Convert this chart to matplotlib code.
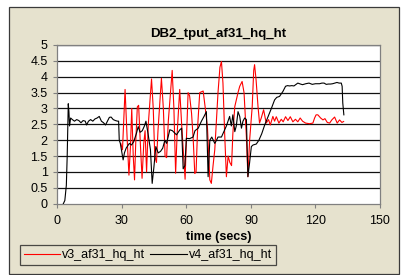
import matplotlib
matplotlib.use("Agg")
import matplotlib.pyplot as plt
from matplotlib.patches import Rectangle

plt.rcParams['font.family'] = ['Liberation Sans', 'DejaVu Sans']

# v3 (red) series: time (secs), value
v3_t = [29.5, 30.3, 31.5, 32.5, 33.3, 34.0, 34.6, 35.3, 35.9, 36.5, 37.2, 37.8,
        38.6, 39.4, 40.2, 40.8, 41.5, 42.3, 43.8, 44.6, 45.3, 46.1, 46.8, 48.4,
        49.3, 50.1, 50.8, 51.6, 53.4, 54.2, 55.0, 55.7, 56.9, 57.8, 59.4, 60.0,
        60.8, 61.5, 62.4, 63.2, 63.9, 64.5, 65.3, 66.2, 67.8, 68.8, 69.8, 70.9,
        71.6, 72.4, 73.2, 74.7, 75.6, 76.3, 77.0, 77.8, 78.6, 79.4, 80.2, 81.0,
        81.6, 82.5, 84.0, 84.8, 85.9, 86.8, 87.9, 88.6, 89.4, 90.6, 91.3, 91.7,
        92.4, 93.3, 94.0, 94.8, 95.9, 97.1, 98.2, 99.0, 100.2, 101.0, 101.8, 103.0,
        104.1, 105.0, 106.1, 107.2, 108.3, 109.5, 110.7, 111.8, 112.9, 114.0, 115.4,
        117.2, 118.8, 119.6, 120.3, 121.1, 122.4, 123.5, 124.4, 125.5, 126.6, 127.6,
        128.9, 130.1, 131.2, 132.3, 133.1]
v3_val = [1.9, 1.7, 3.6, 2.0, 0.9, 1.8, 3.0, 1.5, 0.75, 2.0, 3.05, 3.1,
          1.9, 0.8, 1.9, 2.3, 1.0, 2.5, 3.93, 3.0, 1.5, 1.3, 2.3, 3.95,
          3.0, 1.5, 1.45, 2.6, 4.2, 3.0, 0.96, 2.2, 3.6, 2.5, 0.77, 2.0,
          3.5, 3.4, 2.85, 2.0, 0.95, 1.0, 2.5, 3.5, 3.55, 3.0, 2.4, 0.75,
          0.64, 1.2, 1.7, 3.5, 4.3, 4.48, 3.8, 2.2, 0.85, 1.5, 1.3, 1.2,
          2.2, 3.06, 3.5, 3.7, 3.85, 3.5, 2.1, 0.85, 2.0, 3.06, 4.2, 4.38,
          3.9, 3.06, 2.54, 2.7, 2.96, 2.54, 2.65, 2.48, 2.75, 2.6, 2.74, 2.54,
          2.66, 2.58, 2.74, 2.62, 2.74, 2.58, 2.66, 2.58, 2.7, 2.6, 2.54,
          2.52, 2.54, 2.7, 2.8, 2.8, 2.7, 2.64, 2.68, 2.56, 2.54, 2.64,
          2.73, 2.54, 2.64, 2.56, 2.59]

# v4 (black) series
v4_t = [2.8, 3.5, 4.2, 4.6, 5.1, 5.4, 5.7, 6.2, 7, 8, 9, 10, 11, 12, 13, 13.6,
        14.5, 15.5, 16.5, 17.5, 18.5, 19.5, 20.5, 21.5, 22.4, 23.3, 24.2, 25, 26,
        27, 28, 28.5, 28.8, 29.3, 29.8, 30.6, 31.2, 32, 32.5, 33.5, 34.5, 35.5,
        36.8, 37.6, 38.5, 39.5, 40.5, 41.2, 42.2, 43.3, 44.1, 44.9, 45.8, 46.9,
        48, 49, 50, 50.8, 52.3, 53.5, 55.4, 57, 57.8, 58.5, 59.3, 60, 61.5, 63.1,
        64, 65.5, 67, 68.2, 69.3, 70.1, 70.9, 71.8, 73.2, 74, 74.7, 76.3, 77.8,
        78.6, 80.1, 80.9, 81.6, 82.5, 83.2, 84, 84.8, 85.6, 86.3, 87.1, 87.9,
        88.6, 89.4, 90.2, 91, 92.5, 93.7, 95, 96.4, 98, 99.5, 101, 102, 103.3,
        104.9, 106.1, 107, 108, 109, 110, 111.8, 113, 114, 115.5, 117, 118.5,
        120, 121.9, 123, 124, 125, 126, 127, 128, 129, 130, 131, 132, 132.4,
        132.7, 133.2]
v4_val = [0, 0.1, 0.58, 1.5, 3.15, 2.9, 2.45, 2.7, 2.65, 2.6, 2.65, 2.62, 2.55,
          2.62, 2.6, 2.48, 2.6, 2.65, 2.6, 2.67, 2.7, 2.75, 2.6, 2.55, 2.48, 2.6,
          2.72, 2.73, 2.65, 2.62, 2.6, 2.6, 2.0, 1.9, 1.7, 1.38, 1.6, 1.75, 1.8,
          1.9, 1.85, 1.95, 2.22, 2.43, 2.25, 2.3, 2.45, 2.6, 2.2, 1.7, 0.64, 1.15,
          1.8, 1.6, 1.65, 1.75, 2.0, 1.9, 2.33, 2.3, 2.17, 2.33, 2.38, 1.1, 1.2,
          2.06, 2.05, 2.1, 2.3, 2.38, 2.6, 2.75, 2.9, 0.85, 2.0, 2.1, 1.9, 2.0,
          2.1, 2.1, 2.33, 2.45, 2.75, 2.45, 2.8, 2.27, 2.45, 2.9, 2.75, 2.38, 2.6,
          2.7, 2.65, 0.85, 1.3, 1.8, 1.85, 1.88, 2.0, 2.2, 2.48, 2.75, 3.0, 3.27,
          3.35, 3.38, 3.54, 3.7, 3.72, 3.71, 3.72, 3.71, 3.8, 3.77, 3.75, 3.78,
          3.8, 3.76, 3.78, 3.78, 3.8, 3.8, 3.76, 3.77, 3.77, 3.78, 3.8, 3.82, 3.8,
          3.8, 3.7, 3.17, 2.8]

x_ticks = [0, 30, 60, 90, 120, 150]
y_ticks = [0, 0.5, 1, 1.5, 2, 2.5, 3, 3.5, 4, 4.5, 5]

bg = '#E6E2CE'
W, H = 402, 275

fig = plt.figure(figsize=(W / 100, H / 100), dpi=100)
fig.patch.set_facecolor('white')

# chart area with dark border
fig.patches.append(Rectangle((8.5 / W, 1.5 / H), (399.5 - 8.5) / W, (268.5 - 1.5) / H,
                             transform=fig.transFigure, facecolor=bg,
                             edgecolor='#3a3a3a', linewidth=0.9, zorder=-5))

ax = fig.add_axes([57.3 / W, 71.3 / H, (380 - 57.3) / W, (203.7 - 45) / H])
ax.set_zorder(2)
ax.set_facecolor('white')

for yv in y_ticks[1:]:
    ax.axhline(yv, color='#111111', linewidth=0.9, zorder=1)

ax.plot(v3_t, v3_val, color='#FF0000', linewidth=0.8, label='v3_af31_hq_ht', zorder=3)
ax.plot(v4_t, v4_val, color='#000000', linewidth=0.8, label='v4_af31_hq_ht', zorder=3)

ax.set_xlim(0, 150)
ax.set_ylim(0, 5)
ax.set_xticks(x_ticks)
ax.set_xticklabels([str(v) for v in x_ticks])
ax.set_yticks(y_ticks)
ax.set_yticklabels(['0', '0.5', '1', '1.5', '2', '2.5', '3', '3.5', '4', '4.5', '5'])
ax.tick_params(axis='both', labelsize=9, length=3, width=0.8, color='#808080',
               direction='out')
ax.tick_params(axis='x', pad=5)
ax.tick_params(axis='y', pad=4)
for s in ax.spines.values():
    s.set_color('#808080')
    s.set_linewidth(0.9)

ax.set_title('DB2_tput_af31_hq_ht', fontsize=9.5, fontweight='bold', pad=6)
ax.set_xlabel('time (secs)', fontsize=9, fontweight='bold', labelpad=3)

leg = fig.legend(loc='center', bbox_to_anchor=(148 / W, 1 - 255 / H), ncol=2,
                 fontsize=9, handlelength=2.9, handletextpad=0.2,
                 columnspacing=0.4, borderpad=0.3, frameon=True, fancybox=False)
leg.get_frame().set_facecolor(bg)
leg.get_frame().set_edgecolor('#222222')
leg.get_frame().set_linewidth(0.9)
leg.set_zorder(3)

fig.savefig('out.png', dpi=100, facecolor=fig.get_facecolor())
